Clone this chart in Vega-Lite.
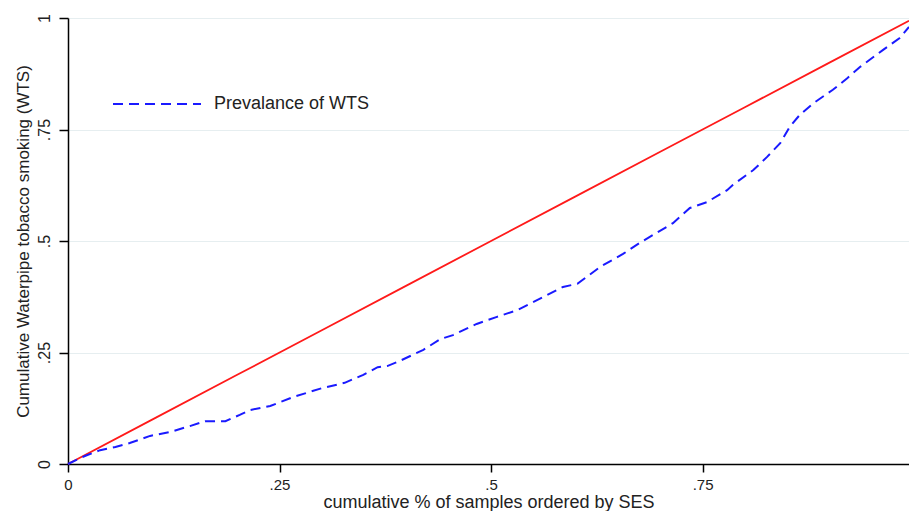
{
  "$schema": "https://vega.github.io/schema/vega-lite/v6.json",
  "width": 841,
  "height": 446,
  "autosize": "none",
  "padding": {"left": 68, "top": 18, "right": 0, "bottom": 47},
  "background": "white",
  "config": {
    "view": {"stroke": null},
    "font": "Liberation Sans",
    "axis": {"labelFont": "Liberation Sans", "titleFont": "Liberation Sans", "labelColor": "#222", "titleColor": "#222", "titleFontWeight": "normal", "domainColor": "#000", "tickColor": "#000", "domainWidth": 1.5, "tickWidth": 1.5, "labelFlush": false}
  },
  "datasets": {
    "conc": [
      {"x": 0, "y": 0}, {"x": 0.02, "y": 0.018}, {"x": 0.038, "y": 0.031}, {"x": 0.056, "y": 0.038},
      {"x": 0.073, "y": 0.047}, {"x": 0.097, "y": 0.063}, {"x": 0.121, "y": 0.072}, {"x": 0.144, "y": 0.085},
      {"x": 0.162, "y": 0.096}, {"x": 0.186, "y": 0.096}, {"x": 0.203, "y": 0.11}, {"x": 0.215, "y": 0.121},
      {"x": 0.239, "y": 0.13}, {"x": 0.266, "y": 0.15}, {"x": 0.3, "y": 0.17}, {"x": 0.327, "y": 0.182},
      {"x": 0.349, "y": 0.2}, {"x": 0.366, "y": 0.217}, {"x": 0.378, "y": 0.22}, {"x": 0.392, "y": 0.231},
      {"x": 0.42, "y": 0.256}, {"x": 0.44, "y": 0.28}, {"x": 0.455, "y": 0.289}, {"x": 0.483, "y": 0.314},
      {"x": 0.507, "y": 0.33}, {"x": 0.531, "y": 0.345}, {"x": 0.552, "y": 0.365}, {"x": 0.585, "y": 0.397},
      {"x": 0.602, "y": 0.404}, {"x": 0.629, "y": 0.442}, {"x": 0.656, "y": 0.471}, {"x": 0.676, "y": 0.496},
      {"x": 0.691, "y": 0.513}, {"x": 0.715, "y": 0.54}, {"x": 0.735, "y": 0.574}, {"x": 0.755, "y": 0.587},
      {"x": 0.779, "y": 0.614}, {"x": 0.786, "y": 0.626}, {"x": 0.81, "y": 0.659}, {"x": 0.826, "y": 0.688},
      {"x": 0.842, "y": 0.72}, {"x": 0.853, "y": 0.756}, {"x": 0.865, "y": 0.783}, {"x": 0.881, "y": 0.809},
      {"x": 0.904, "y": 0.839}, {"x": 0.921, "y": 0.865}, {"x": 0.936, "y": 0.89}, {"x": 0.963, "y": 0.928},
      {"x": 0.983, "y": 0.955}, {"x": 0.994, "y": 0.98}
    ],
    "equal": [
      {"x": 0, "y": 0}, {"x": 0.1, "y": 0.1}, {"x": 0.2, "y": 0.2}, {"x": 0.3, "y": 0.3}, {"x": 0.4, "y": 0.4},
      {"x": 0.5, "y": 0.5}, {"x": 0.6, "y": 0.6}, {"x": 0.7, "y": 0.7}, {"x": 0.8, "y": 0.8}, {"x": 0.9, "y": 0.9},
      {"x": 0.994, "y": 0.994}
    ]
  },
  "layer": [
    {
      "data": {"name": "equal"},
      "mark": {"type": "line", "color": "#ff1a1a", "strokeWidth": 1.8},
      "encoding": {
        "x": {"field": "x", "type": "quantitative", "scale": {"domain": [0, 0.994], "nice": false, "zero": false},
          "axis": {"values": [0, 0.25, 0.5, 0.75], "labelExpr": "datum.value == 0 ? '0' : replace(format(datum.value, ''), '0.', '.')", "grid": false, "tickSize": 8, "labelFontSize": 15, "labelPadding": 5, "title": "cumulative % of samples ordered by SES", "titleFontSize": 18, "titlePadding": 1}},
        "y": {"field": "y", "type": "quantitative", "scale": {"domain": [0, 1], "nice": false},
          "axis": {"values": [0, 0.25, 0.5, 0.75, 1], "labelExpr": "datum.value == 0 ? '0' : datum.value == 1 ? '1' : replace(format(datum.value, ''), '0.', '.')", "grid": true, "gridColor": "#e6eef0", "gridWidth": 1.2, "tickSize": 9, "labelFontSize": 16, "labelAngle": 270, "labelAlign": "center", "labelBaseline": "bottom", "labelPadding": 7, "title": "Cumulative Waterpipe tobacco smoking (WTS)", "titleFontSize": 17, "titlePadding": 4}}
      }
    },
    {
      "data": {"name": "conc"},
      "mark": {"type": "line", "strokeWidth": 2, "strokeDash": [10, 6]},
      "encoding": {
        "x": {"field": "x", "type": "quantitative"},
        "y": {"field": "y", "type": "quantitative"},
        "color": {"datum": "Prevalance of WTS", "type": "nominal",
          "scale": {"range": ["#1a1aff"]},
          "legend": {"title": null, "orient": "none", "legendX": 44, "legendY": 41, "symbolType": "stroke", "symbolSize": 7744, "symbolStrokeWidth": 2, "symbolDash": [10, 6], "labelFontSize": 18, "labelColor": "#222", "labelOffset": 12, "labelFont": "Liberation Sans"}}
      }
    }
  ]
}
